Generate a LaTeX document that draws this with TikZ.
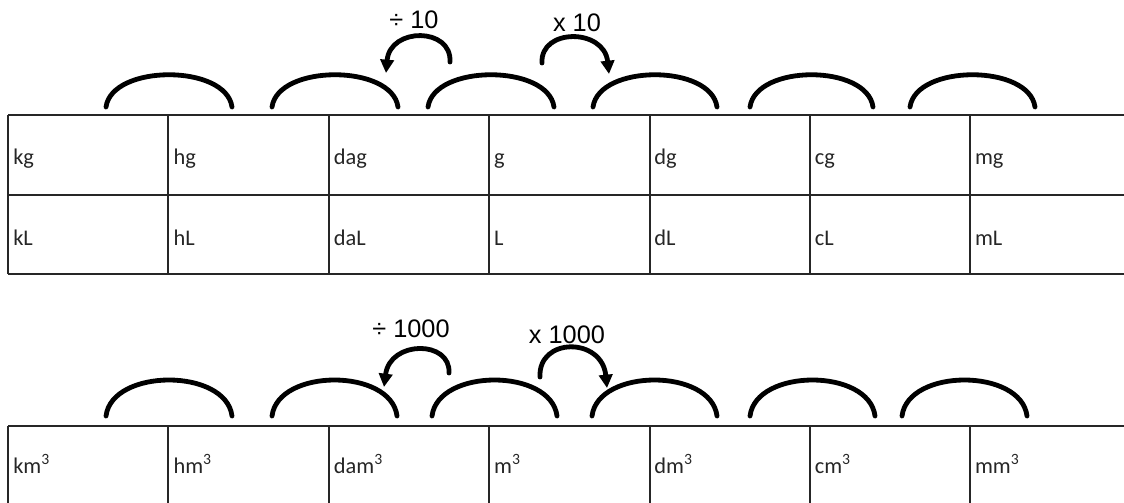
\documentclass[tikz,border=0pt]{standalone}
\usepackage{fontspec}
\setmainfont{Carlito}
\newfontfamily\factorfont{Liberation Sans}
\usetikzlibrary{arrows.meta}

\begin{document}
\begin{tikzpicture}[x=0.75pt,y=-0.75pt,
  grid/.style={draw=black!85, line width=1.1pt},
  unit/.style={anchor=base west, inner sep=0pt, text=black!85, font=\fontsize{16.8}{19}\selectfont},
  hop/.style={line width=3.6pt, line cap=round},
  jump/.style={line width=3.6pt, line cap=round, -{Triangle[length=10pt,width=10pt]}},
  factor/.style={font=\factorfont\fontsize{19}{22}\selectfont, inner sep=0pt}]
\useasboundingbox (0,0) rectangle (1124,503);

% ---- upper table: mass and capacity ----
\foreach \y in {115,195,274} \draw[grid] (8,\y) -- (1124,\y);
\foreach \x in {8,168,329,489,650,810,970} \draw[grid] (\x,115) -- (\x,274);

\foreach \t [count=\i from 0] in {kg,hg,dag,g,dg,cg,mg}
  \node[unit] (m\i) at ({8+160.3*\i+5},164) {\t};
\foreach \t [count=\i from 0] in {kL,hL,daL,L,dL,cL,mL}
  \node[unit] (l\i) at ({8+160.3*\i+5},245) {\t};

% ---- lower table: volume ----
\draw[grid] (8,426) -- (1124,426);
\foreach \x in {8,168,329,489,650,810,970} \draw[grid] (\x,426) -- (\x,503);
\foreach \t [count=\i from 0] in {km,hm,dam,m,dm,cm,mm}
  \node[unit] (v\i) at ({8+160.3*\i+5},473) {\t\textsuperscript{3}};

% ---- arches over the upper table ----
\foreach \a/\b [count=\i] in {106/232,272/398,428/554,593/717,750/873,910/1035}{
  \coordinate (ta\i) at (\a,107);
  \coordinate (tb\i) at (\b,107);
  \draw[hop] (ta\i) .. controls +(6,-43) and +(-6,-43) .. (tb\i);
}
% ---- arches over the lower table ----
\foreach \a/\b [count=\i] in {106/232,272/397,432/557,592/717,750/875,902/1027}{
  \coordinate (ba\i) at (\a,416);
  \coordinate (bb\i) at (\b,416);
  \draw[hop] (ba\i) .. controls +(6,-48) and +(-6,-48) .. (bb\i);
}

% ---- conversion arrows, upper table ----
\coordinate (dvs) at (450,62);  \coordinate (dve) at (386,73);
\draw[jump] (dvs) .. controls (452,27) and (390,27) .. (dve);
\node[factor] (dvl) at (414,20) {÷ 10};
\coordinate (mus) at (542,63);  \coordinate (mue) at (609,74);
\draw[jump] (mus) .. controls (540,28) and (604,28) .. (mue);
\node[factor] (mul) at (577,23) {x 10};

% ---- conversion arrows, lower table ----
\coordinate (dvs3) at (449,373);  \coordinate (dve3) at (384,387);
\draw[jump] (dvs3) .. controls (451,340) and (390,340) .. (dve3);
\node[factor] (dvl3) at (411,329) {÷ 1000};
\coordinate (mus3) at (540,377);  \coordinate (mue3) at (607,388);
\draw[jump] (mus3) .. controls (538,337) and (602,337) .. (mue3);
\node[factor] (mul3) at (567,335) {x 1000};
\end{tikzpicture}
\end{document}
